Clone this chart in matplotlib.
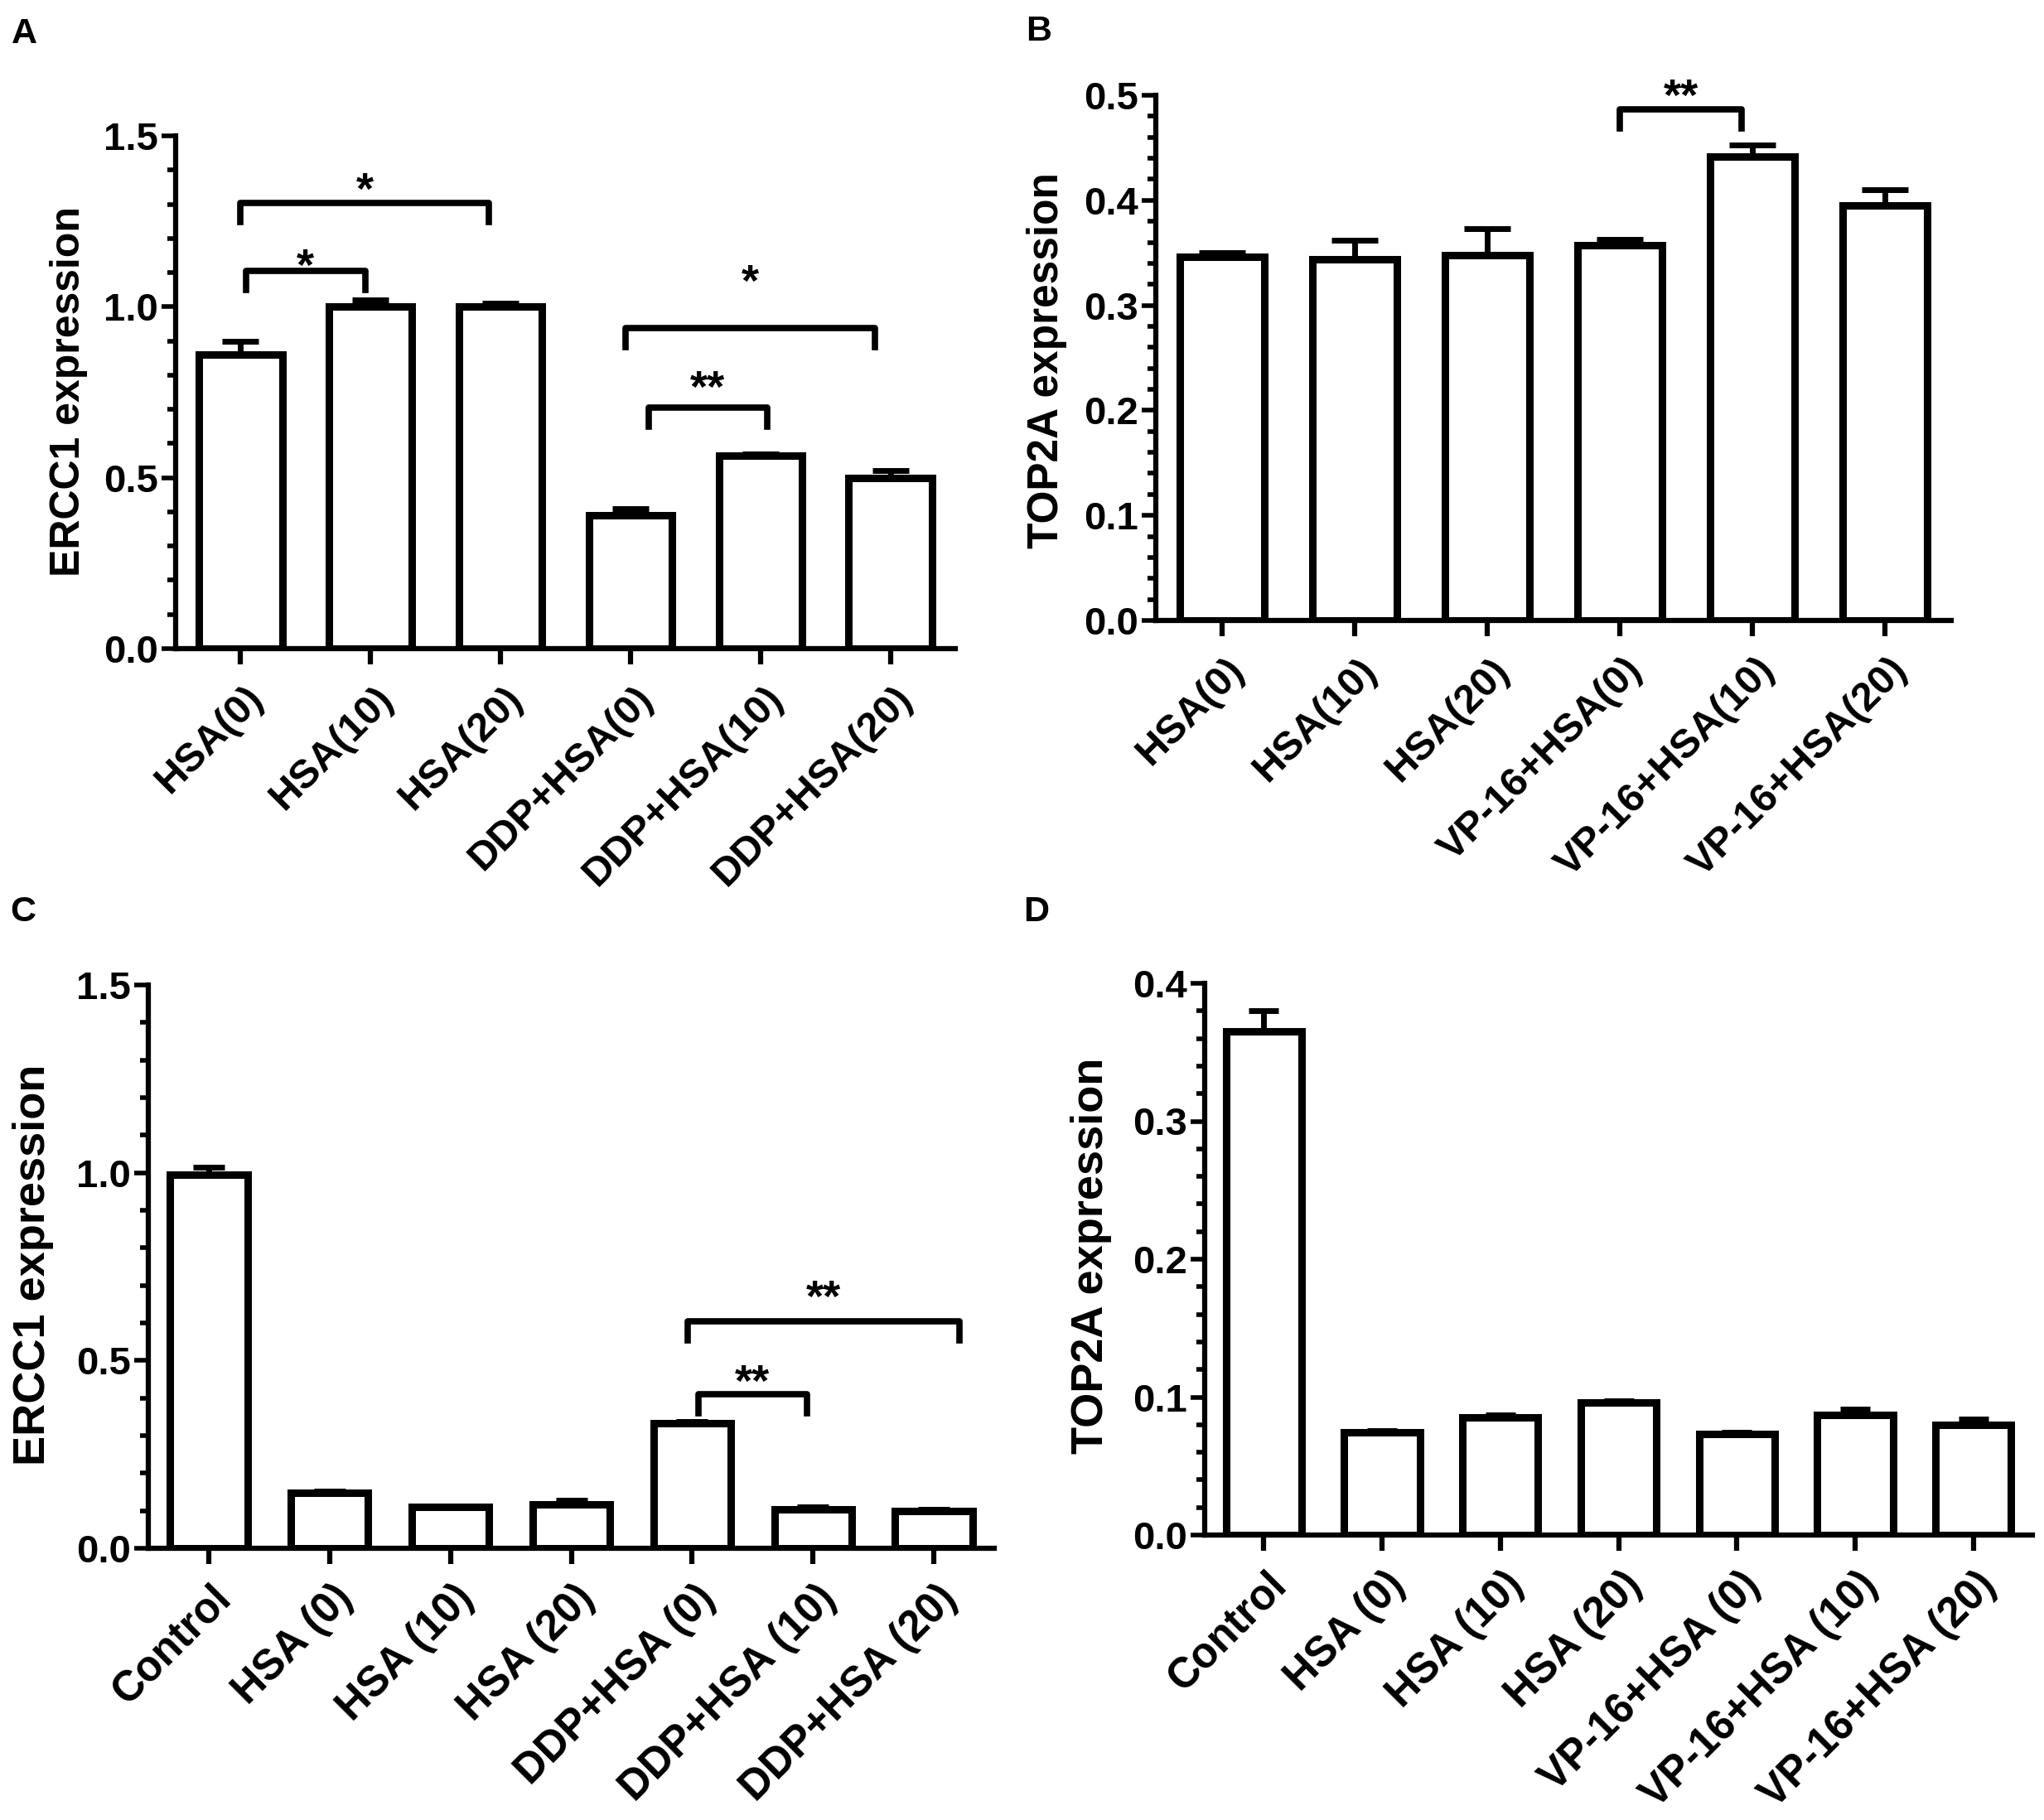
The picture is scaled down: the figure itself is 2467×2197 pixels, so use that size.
import numpy as np
import matplotlib
matplotlib.use('Agg')
import matplotlib.pyplot as plt
from matplotlib.ticker import MultipleLocator, FormatStrFormatter
from matplotlib.transforms import offset_copy, ScaledTranslation

plt.rcParams['font.family'] = ['Liberation Sans', 'DejaVu Sans']
plt.rcParams['font.weight'] = 'bold'

W, H = 2467, 2197
DPI = 100

# --- panel A : ERCC1, DDP ---
a_labels = ['HSA(0)', 'HSA(10)', 'HSA(20)', 'DDP+HSA(0)', 'DDP+HSA(10)', 'DDP+HSA(20)']
a_means = [0.86, 1.00, 1.00, 0.39, 0.565, 0.50]
a_err = [0.04, 0.02, 0.01, 0.02, 0.005, 0.02]
# (x1, x2, bracket y, star y, text)
a_sig = [(0.0, 1.91, 1.303, 1.379, '*'),
         (0.04, 0.96, 1.104, 1.156, '*'),
         (2.96, 4.88, 0.938, 1.11, '*'),
         (3.14, 4.05, 0.706, 0.80, '**')]

# --- panel B : TOP2A, VP-16 ---
b_labels = ['HSA(0)', 'HSA(10)', 'HSA(20)', 'VP-16+HSA(0)', 'VP-16+HSA(10)', 'VP-16+HSA(20)']
b_means = [0.346, 0.344, 0.348, 0.357, 0.442, 0.395]
b_err = [0.004, 0.018, 0.025, 0.006, 0.011, 0.015]
b_sig = [(3.0, 3.92, 0.4864, 0.511, '**')]

# --- panel C : ERCC1 with control ---
c_labels = ['Control', 'HSA (0)', 'HSA (10)', 'HSA (20)', 'DDP+HSA (0)', 'DDP+HSA (10)', 'DDP+HSA (20)']
c_means = [0.995, 0.148, 0.110, 0.116, 0.334, 0.104, 0.100]
c_err = [0.02, 0.005, 0.003, 0.012, 0.003, 0.006, 0.004]
c_sig = [(3.96, 6.21, 0.605, 0.70, '**'),
         (4.05, 4.95, 0.41, 0.475, '**')]

# --- panel D : TOP2A with control ---
d_labels = ['Control', 'HSA (0)', 'HSA (10)', 'HSA (20)', 'VP-16+HSA (0)', 'VP-16+HSA (10)', 'VP-16+HSA (20)']
d_means = [0.365, 0.0745, 0.085, 0.096, 0.0735, 0.087, 0.080]
d_err = [0.015, 0.001, 0.002, 0.0015, 0.001, 0.004, 0.004]
d_sig = []


fig = plt.figure(figsize=(W / DPI, H / DPI), dpi=DPI, facecolor='white')


def add_axes_px(l, t, r, b):
    return fig.add_axes([l / W, 1 - b / H, (r - l) / W, (b - t) / H])


def draw(ax, labels, means, errs, ymax, major, minor, capsize, sig, xfs):
    n = len(labels)
    x = np.arange(n)
    ax.bar(x, means, width=0.64, color='white', edgecolor='black',
           linewidth=6.5, zorder=3)
    ax.errorbar(x, means, yerr=[np.zeros(n), errs], fmt='none', ecolor='black',
                elinewidth=5, capsize=capsize, capthick=5, zorder=2)

    ax.set_xlim(-0.5, n - 0.5)
    ax.set_ylim(0, ymax)
    for s in ['top', 'right']:
        ax.spines[s].set_visible(False)
    for s in ['left', 'bottom']:
        ax.spines[s].set_linewidth(4.5)

    ax.yaxis.set_major_locator(MultipleLocator(major))
    ax.yaxis.set_minor_locator(MultipleLocator(minor))
    ax.yaxis.set_major_formatter(FormatStrFormatter('%.1f'))
    ax.tick_params(axis='y', which='major', length=12, width=4, labelsize=34, pad=3)
    ax.tick_params(axis='y', which='minor', length=7, width=4)
    ax.tick_params(axis='x', which='major', length=14, width=4.5, labelsize=xfs, pad=24)

    ax.set_xticks(x)
    ax.set_xticklabels(labels, rotation=45, ha='right', va='center',
                       rotation_mode='anchor')
    shift = ScaledTranslation(0.2, 0, fig.dpi_scale_trans)
    for lab in ax.get_xticklabels():
        lab.set_transform(lab.get_transform() + shift)

    # bracket drop ~23 px
    bb = ax.get_position()
    drop = 23 / (bb.height * H) * ymax
    star_fs = 39
    star_tr = offset_copy(ax.transData, fig=fig, y=-0.585 * star_fs, units='points')
    for x1, x2, yb, ys, txt in sig:
        ax.plot([x1, x1, x2, x2], [yb - drop, yb, yb, yb - drop], color='black',
                lw=5.5, clip_on=False, zorder=4)
        ax.text((x1 + x2) / 2, ys, txt, ha='center', va='baseline',
                fontsize=star_fs, transform=star_tr)


ax_a = add_axes_px(212, 164, 1153, 783)
draw(ax_a, a_labels, a_means, a_err, 1.5, 0.5, 0.1, 16, a_sig, 35)

ax_b = add_axes_px(1395, 115, 2355, 749)
draw(ax_b, b_labels, b_means, b_err, 0.5, 0.1, 0.02, 20, b_sig, 35)

ax_c = add_axes_px(179, 1189, 1200, 1869)
draw(ax_c, c_labels, c_means, c_err, 1.5, 0.5, 0.1, 14, c_sig, 36.5)

ax_d = add_axes_px(1454, 1187, 2453, 1853)
draw(ax_d, d_labels, d_means, d_err, 0.4, 0.1, 0.02, 13, d_sig, 36.5)

# y labels
for (cx, cy, txt, fs) in [(83, 473, 'ERCC1 expression', 36),
                          (1264, 435, 'TOP2A expression', 37),
                          (40, 1527, 'ERCC1 expression', 39),
                          (1317, 1516, 'TOP2A expression', 39)]:
    fig.text(cx / W, 1 - cy / H, txt, rotation=90, ha='center', va='center', fontsize=fs)

# panel letters
for (cx, cy, txt) in [(29, 41, 'A'), (1254, 38, 'B'), (28, 1101, 'C'), (1251, 1101, 'D')]:
    fig.text(cx / W, 1 - cy / H, txt, ha='center', va='center', fontsize=31)

fig.savefig('out.png', dpi=DPI, facecolor='white')
